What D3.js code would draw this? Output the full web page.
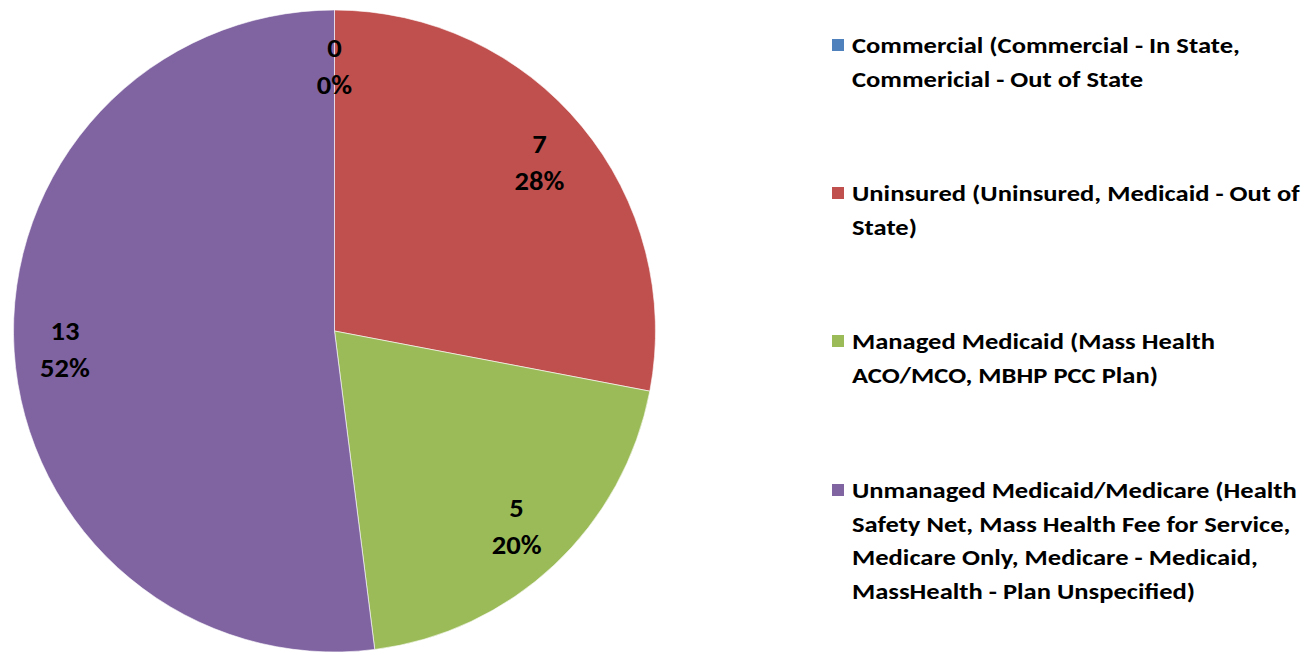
<!DOCTYPE html>
<html><head><meta charset="utf-8">
<script src="https://cdn.jsdelivr.net/npm/d3@7"></script>
<style>body{margin:0;background:#fff}svg{display:block}text{font-family:Carlito,Lato,"Open Sans",sans-serif;font-weight:bold;fill:#000}</style>
</head><body>
<svg id="c" width="1310" height="655"></svg>
<script>
const categories = ["Commercial", "Uninsured", "Managed Medicaid", "Unmanaged Medicaid/Medicare"];
const values = [0, 7, 5, 13];
const colors = ["#4F81BD", "#C0504D", "#9BBB59", "#8064A2"];
const legendLines = [
  ["Commercial (Commercial - In State,", "Commericial - Out of State"],
  ["Uninsured (Uninsured, Medicaid - Out of", "State)"],
  ["Managed Medicaid (Mass Health", "ACO/MCO, MBHP PCC Plan)"],
  ["Unmanaged Medicaid/Medicare (Health", "Safety Net, Mass Health Fee for Service,", "Medicare Only, Medicare - Medicaid,", "MassHealth - Plan Unspecified)"]
];

const svg = d3.select("#c");
const cx = 334.5, cy = 331, R = 321;
const total = d3.sum(values);
const pie = d3.pie().sort(null).value(d => d)(values);
const arc = d3.arc().innerRadius(0).outerRadius(R);
const g = svg.append("g").attr("transform", `translate(${cx},${cy})`);
g.selectAll("path").data(pie).enter().append("path")
  .attr("d", arc).attr("fill", (d,i) => colors[i])
  .attr("stroke", "#fff").attr("stroke-width", 0.6);

const labelArc = d3.arc().innerRadius(266).outerRadius(266);
const lab = g.selectAll("g.lab").data(pie).enter().append("g").attr("class","lab")
  .attr("transform", (d,i) => { const c = labelArc.centroid(d); return `translate(${c[0] + (i===3?-4:0)},${c[1]}) scale(1.1,1)`; });
lab.append("text").attr("text-anchor","middle").attr("y",-8).attr("font-size",26)
  .text(d => d.data);
lab.append("text").attr("text-anchor","middle").attr("y",29).attr("font-size",26)
  .text(d => Math.round(d.data / total * 100) + "%");

const legY = [45, 193, 341, 490];
const lg = svg.append("g");
const lt = lg.append("g");
legendLines.forEach((lines, i) => {
  lg.append("rect").attr("x", 832).attr("y", legY[i] - 6).attr("width", 12).attr("height", 12).attr("fill", colors[i]);
  lines.forEach((t, j) => {
    lt.append("text").attr("x", 0).attr("y", legY[i] + j * 33.5).attr("dy", "0.35em")
      .attr("font-size", 23).text(t);
  });
});
// stretch legend text horizontally so the widest line spans like the reference
const w = lt.selectAll("text").nodes()[6].getComputedTextLength();
const k = 445 / w;
lt.attr("transform", `translate(852,0) scale(${k},1)`);
</script>
</body></html>
